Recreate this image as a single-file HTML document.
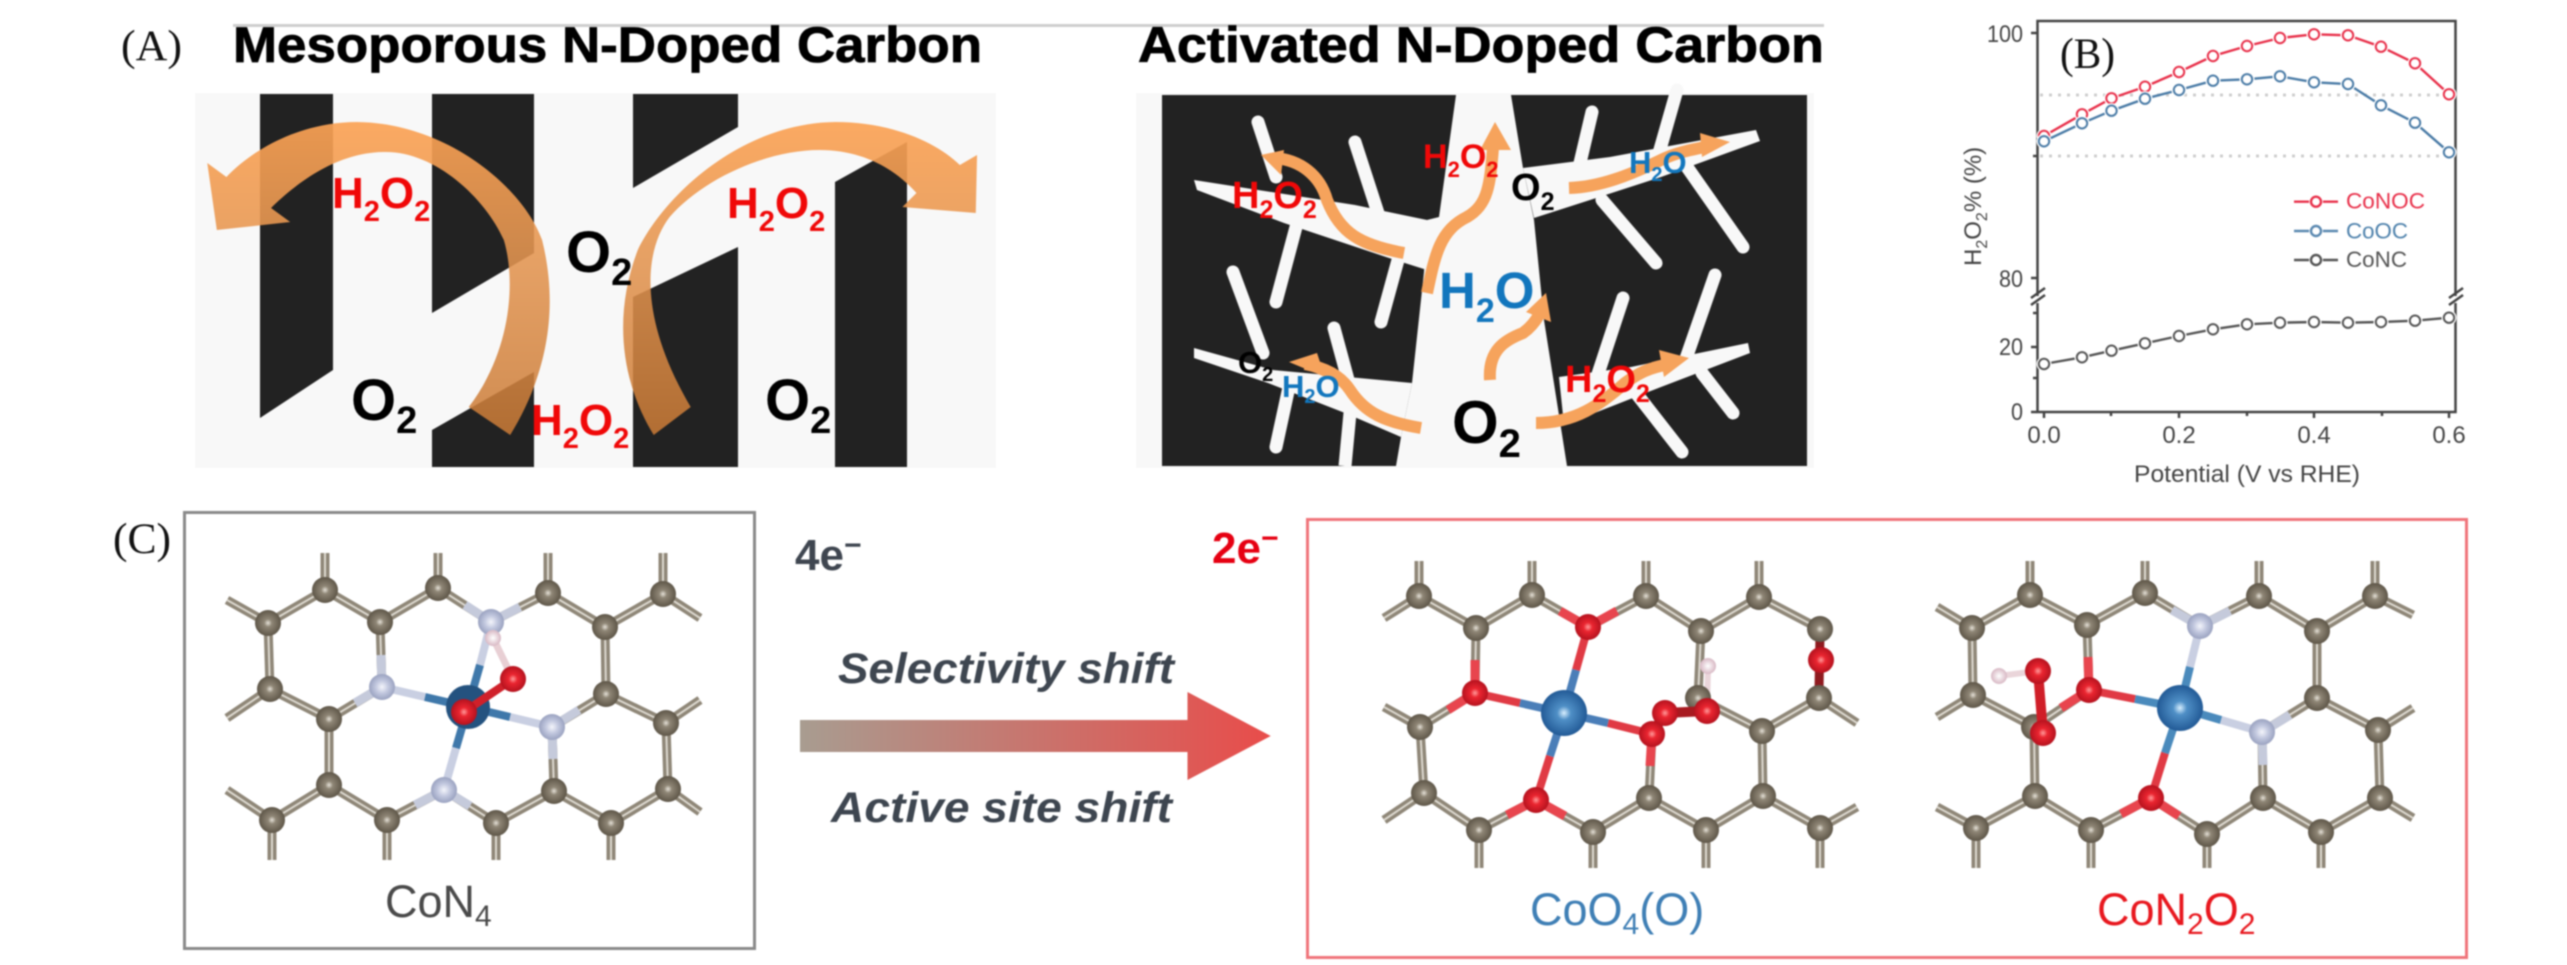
<!DOCTYPE html>
<html><head><meta charset="utf-8"><style>
html,body{margin:0;padding:0;background:#fff;width:2567px;height:965px;overflow:hidden}
svg{display:block;font-family:"Liberation Sans",sans-serif}
.blur{filter:blur(.7px)}
.ser{font-family:"Liberation Serif",serif;font-size:43px;fill:#111}
.b{font-weight:bold}
.wt{stroke:#f8f8f8;fill:none;stroke-linecap:round}
.or{stroke:#f6a35c;fill:none;stroke-width:12;stroke-linecap:butt;stroke-linejoin:round}
.ah{fill:#f6a35c}
.tk{font-size:24px;fill:#444}
</style></head><body>
<svg width="2567" height="965" viewBox="0 0 2567 965" xmlns="http://www.w3.org/2000/svg">
<defs>
<linearGradient id="ga" x1="0" y1="0" x2="0" y2="1"><stop offset="0" stop-color="#fba254" stop-opacity=".92"/><stop offset=".45" stop-color="#e29450" stop-opacity=".88"/><stop offset="1" stop-color="#c97a36" stop-opacity=".86"/></linearGradient>
<linearGradient id="gs" gradientUnits="userSpaceOnUse" x1="800" y1="0" x2="1270" y2="0"><stop offset="0" stop-color="#a89c90"/><stop offset="1" stop-color="#e84c4a"/></linearGradient>
<radialGradient id="gc"><stop offset="0" stop-color="#e6e2d8"/><stop offset=".3" stop-color="#8f8676"/><stop offset="1" stop-color="#5e5648"/></radialGradient>
<radialGradient id="gn"><stop offset="0" stop-color="#f4f5fb"/><stop offset=".5" stop-color="#c1c7de"/><stop offset="1" stop-color="#9aa2c0"/></radialGradient>
<radialGradient id="go"><stop offset="0" stop-color="#ff9a9a"/><stop offset=".35" stop-color="#ea2530"/><stop offset="1" stop-color="#b5121e"/></radialGradient>
<radialGradient id="gh"><stop offset="0" stop-color="#fff"/><stop offset="1" stop-color="#d8b8c4"/></radialGradient>
<radialGradient id="gk"><stop offset="0" stop-color="#d8efff"/><stop offset=".3" stop-color="#4f8fc6"/><stop offset="1" stop-color="#225a96"/></radialGradient>
<circle id="c" r="13" fill="url(#gc)"/>
<circle id="n" r="13" fill="url(#gn)"/>
<circle id="o" r="13" fill="url(#go)"/>
<circle id="h" r="8" fill="url(#gh)"/>
<circle id="k" r="23" fill="url(#gk)"/>
<marker id="mr" markerWidth="20" markerHeight="20" refX="10" refY="10" markerUnits="userSpaceOnUse"><circle cx="10" cy="10" r="7.5" fill="#fff"/><circle cx="10" cy="10" r="5.2" fill="#fff" stroke="#e8304a" stroke-width="2"/></marker>
<marker id="mb" markerWidth="20" markerHeight="20" refX="10" refY="10" markerUnits="userSpaceOnUse"><circle cx="10" cy="10" r="7.5" fill="#fff"/><circle cx="10" cy="10" r="5.2" fill="#fff" stroke="#4a7ba6" stroke-width="2"/></marker>
<marker id="mg" markerWidth="20" markerHeight="20" refX="10" refY="10" markerUnits="userSpaceOnUse"><circle cx="10" cy="10" r="7.5" fill="#fff"/><circle cx="10" cy="10" r="5.2" fill="#fff" stroke="#555" stroke-width="2"/></marker>
<g id="netA" fill="none">
<polyline points="227,600 268,623 325,590 380,622 438,588 491,622 548,593 605,627 663,594 700,618"/>
<polyline points="227,718 270,689 329,719 382,687 380,622"/>
<polyline points="268,623 270,689"/>
<polyline points="700,700 666,723 606,694 552,727 554,791"/>
<polyline points="605,627 606,694"/>
<polyline points="329,719 329,785"/>
<polyline points="666,723 668,789"/>
<polyline points="227,790 272,820 329,785 387,820 444,790 496,823 554,791 611,823 668,789 700,812"/>
<path d="M325,590V553M438,588V553M548,593V553M663,594V553M272,820V860M387,820V860M496,823V860M611,823V860"/>
</g>
<g id="netB" fill="none">
<polyline points="1384,618 1419,596 1476,628 1532,595 1588,627 1646,596 1701,631 1759,597 1820,629"/>
<polyline points="1476,628 1475,693 1420,727 1384,707"/>
<polyline points="1420,727 1424,793 1384,820"/>
<polyline points="1424,793 1479,830 1536,800 1593,832 1649,798 1706,830 1763,796 1820,828 1857,807"/>
<polyline points="1649,798 1652,734"/>
<polyline points="1701,631 1698,698 1762,731 1819,698 1857,723"/>
<polyline points="1762,731 1763,796"/>
<path d="M1419,596V561M1532,595V561M1646,596V561M1759,597V561M1479,830V868M1593,832V868M1706,830V868M1820,828V868"/>
</g>
<g id="netC" fill="none">
<polyline points="1937,607 1972,628 2030,595 2087,625 2145,593 2200,626 2259,596 2317,631 2375,596 2413,615"/>
<polyline points="1972,628 1973,695 1937,717"/>
<polyline points="1973,695 2034,727 2035,796"/>
<polyline points="2087,625 2089,690 2034,727"/>
<polyline points="1937,807 1976,828 2035,796 2091,830 2151,798 2207,834 2263,798 2321,832 2380,798 2413,818"/>
<polyline points="2263,798 2262,732 2317,698 2317,631"/>
<polyline points="2317,698 2378,730 2413,708"/>
<polyline points="2378,730 2380,798"/>
<path d="M2030,595V561M2145,593V561M2259,596V561M2375,596V561M1976,828V868M2091,830V868M2207,834V868M2321,832V868"/>
</g>
</defs>

<rect width="2567" height="965" fill="#fff"/>
<g class="blur">
<!-- top rule -->
<rect x="233" y="24" width="1591" height="3" fill="#cfcfcf"/>

<!-- Panel A left -->
<rect x="195" y="93" width="801" height="375" fill="#f8f8f8"/>
<g fill="#222">
<polygon points="260,94 333,94 333,370 260,418"/>
<polygon points="432,94 534,94 534,253 432,313"/>
<polygon points="432,430 534,372 534,467 432,467"/>
<polygon points="633,94 738,94 738,127 633,188"/>
<polygon points="633,297 738,247 738,467 633,467"/>
<polygon points="835,182 907,142 907,467 835,467"/>
</g>
<g transform="scale(.63776,1)" fill="url(#ga)">
<path d="M800,435 C850,383 880,317 850,240 C820,187 700,123 560,122 C470,122 395,150 355,177 L325,163 L340,230 L455,222 L425,208 C470,180 530,153 600,152 C680,150 760,197 790,240 C810,283 800,353 735,407 Z"/>
<path d="M1025,435 C975,383 960,317 1000,250 C1040,197 1160,123 1310,122 C1400,122 1470,143 1505,165 L1532,155 L1530,213 L1415,207 L1437,193 C1400,167 1350,150 1285,150 C1200,150 1100,180 1050,217 C1010,250 1000,317 1083,407 Z"/>
</g>

<!-- Panel A right -->
<rect x="1136" y="93" width="678" height="375" fill="#f8f8f8"/>
<rect x="1162" y="95" width="645" height="371" fill="#222"/>
<g fill="#f8f8f8">
<polygon points="1456,95 1511,95 1523,168 1534,220 1544,320 1567,466 1396,466 1401,437 1412,383 1424,272 1427,220 1439,217"/>
<polygon points="1523,168 1610,157 1756,130 1760,141 1661,177 1590,200 1534,218"/>
<polygon points="1194,180 1355,205 1427,220 1427,270 1386,257 1284,223 1197,190"/>
<polygon points="1194,348 1273,370 1412,383 1401,437 1345,413 1268,383 1194,358"/>
<polygon points="1559,377 1631,367 1748,343 1750,353 1661,387 1564,425"/>
</g>
<g class="wt" stroke-width="13">
<path d="M1592,112L1580,163M1602,200L1656,263M1677,90L1659,153M1687,167L1743,247"/>
<path d="M1258,122L1276,177M1355,142L1378,213M1296,227L1276,302M1398,260L1381,322"/>
<path d="M1233,272L1263,353M1334,328L1350,387M1289,387L1276,447"/>
<path d="M1350,413L1345,466" stroke-linecap="butt"/>
<path d="M1623,298L1597,377M1715,275L1682,370M1702,373L1733,413M1636,393L1682,452"/>
</g>
<g class="or">
<path d="M1404,253C1360,245 1340,233 1327,200C1320,175 1300,160 1275,158"/>
<path d="M1427,293C1435,255 1440,230 1467,217C1488,205 1490,185 1493,148"/>
<path d="M1569,188C1600,187 1630,175 1661,160C1675,153 1690,150 1705,147"/>
<path d="M1490,380C1488,350 1505,340 1523,333C1530,328 1535,322 1539,315"/>
<path d="M1421,428C1385,422 1365,413 1350,390C1340,375 1325,368 1305,364"/>
<path d="M1536,423C1575,423 1600,405 1625,383C1640,372 1650,368 1665,365"/>
</g>
<g class="ah">
<polygon points="1261,155 1284,150 1281,175"/>
<polygon points="1495,122 1480,150 1511,150"/>
<polygon points="1730,142 1700,133 1702,157"/>
<polygon points="1546,293 1526,312 1551,322"/>
<polygon points="1289,362 1317,353 1325,377"/>
<polygon points="1689,358 1659,350 1664,377"/>
</g>

<!-- Panel A text -->
<text x="121" y="60" class="ser" textLength="61" lengthAdjust="spacingAndGlyphs">(A)</text>
<text x="233" y="62" class="b" font-size="50" fill="#000" stroke="#000" stroke-width=".8" textLength="749" lengthAdjust="spacingAndGlyphs">Mesoporous N-Doped Carbon</text>
<text x="1138" y="62" class="b" font-size="50" fill="#000" stroke="#000" stroke-width=".8" textLength="686" lengthAdjust="spacingAndGlyphs">Activated N-Doped Carbon</text>

<g class="b" fill="#f00808">
<text x="332" y="208" font-size="44">H<tspan dy="13" font-size="29">2</tspan><tspan dy="-13">O</tspan><tspan dy="13" font-size="29">2</tspan></text>
<text x="727" y="218" font-size="44">H<tspan dy="13" font-size="29">2</tspan><tspan dy="-13">O</tspan><tspan dy="13" font-size="29">2</tspan></text>
<text x="531" y="435" font-size="44">H<tspan dy="13" font-size="29">2</tspan><tspan dy="-13">O</tspan><tspan dy="13" font-size="29">2</tspan></text>
<text x="1423" y="168" font-size="34">H<tspan dy="9" font-size="22">2</tspan><tspan dy="-9">O</tspan><tspan dy="9" font-size="22">2</tspan></text>
<text x="1232" y="208" font-size="38">H<tspan dy="10" font-size="25">2</tspan><tspan dy="-10">O</tspan><tspan dy="10" font-size="25">2</tspan></text>
<text x="1565" y="392" font-size="38">H<tspan dy="10" font-size="25">2</tspan><tspan dy="-10">O</tspan><tspan dy="10" font-size="25">2</tspan></text>
</g>
<g class="b" fill="#000">
<text x="566" y="272" font-size="58">O<tspan dy="13" font-size="38">2</tspan></text>
<text x="351" y="420" font-size="58">O<tspan dy="13" font-size="38">2</tspan></text>
<text x="765" y="420" font-size="58">O<tspan dy="13" font-size="38">2</tspan></text>
<text x="1511" y="200" font-size="38">O<tspan dy="10" font-size="25">2</tspan></text>
<text x="1238" y="373" font-size="31">O<tspan dy="8" font-size="20">2</tspan></text>
<text x="1452" y="443" font-size="60">O<tspan dy="14" font-size="40">2</tspan></text>
</g>
<g class="b" fill="#1276bd">
<text x="1629" y="173" font-size="31">H<tspan dy="8" font-size="20">2</tspan><tspan dy="-8">O</tspan></text>
<text x="1439" y="308" font-size="51">H<tspan dy="14" font-size="34">2</tspan><tspan dy="-14">O</tspan></text>
<text x="1282" y="397" font-size="31">H<tspan dy="6" font-size="20">2</tspan><tspan dy="-6">O</tspan></text>
</g>

<!-- Panel B chart -->
<g stroke="#cfcfcf" stroke-width="3" stroke-dasharray="3 6"><path d="M2040,95H2453M2040,156H2453"/></g>
<g fill="none" stroke="#444" stroke-width="2.5">
<path d="M2037.5,296V21H2455.5V296"/>
<path d="M2037.5,303V412H2455.5V303"/>
<path d="M2031,298L2045,288M2031,305L2045,295M2449,298L2463,288M2449,305L2463,295"/>
<path d="M2031,33H2037M2031,278H2037M2031,347H2037M2031,412H2037M2033,156H2037M2033,313H2037M2033,378H2037"/>
<path d="M2044,412V418M2179,412V418M2314,412V418M2449,412V418M2111,412V416M2247,412V416M2382,412V416"/>
</g>
<g fill="none" stroke-width="2.4">
<polyline stroke="#555" marker-start="url(#mg)" marker-mid="url(#mg)" marker-end="url(#mg)" points="2044,364 2082,357.3 2111.5,350.7 2145,343.3 2179,336 2213,329.3 2247,324.3 2280,322.7 2314,322 2348,322.7 2381,322 2415,320.7 2449,317.7"/>
<polyline stroke="#e8304a" marker-start="url(#mr)" marker-mid="url(#mr)" marker-end="url(#mr)" points="2044,136 2082,114.3 2111.5,98.3 2145,86.7 2179,72 2213,56 2247,46 2280,38 2314,34.3 2348,35.3 2381,46.7 2415,63.3 2449,94.3"/>
<polyline stroke="#4a7ba6" marker-start="url(#mb)" marker-mid="url(#mb)" marker-end="url(#mb)" points="2044,141.3 2082,123.3 2111.5,110.7 2145,98.7 2179,90 2213,80.7 2247,79.3 2280,76.3 2314,82.3 2348,84 2381,105.3 2415,122.7 2449,152.3"/>
</g>
<g class="tk">
<text x="1987" y="42" textLength="36" lengthAdjust="spacingAndGlyphs">100</text>
<text x="1999" y="287" textLength="24" lengthAdjust="spacingAndGlyphs">80</text>
<text x="1999" y="355" textLength="24" lengthAdjust="spacingAndGlyphs">20</text>
<text x="2011" y="420" textLength="12" lengthAdjust="spacingAndGlyphs">0</text>
<text x="2044" y="443" text-anchor="middle">0.0</text>
<text x="2179" y="443" text-anchor="middle">0.2</text>
<text x="2314" y="443" text-anchor="middle">0.4</text>
<text x="2449" y="443" text-anchor="middle">0.6</text>
<text x="2134" y="482" textLength="226" lengthAdjust="spacingAndGlyphs">Potential (V vs RHE)</text>
<text transform="translate(1981,266) rotate(-90)">H<tspan dy="6" font-size="16">2</tspan><tspan dy="-6">O</tspan><tspan dy="6" font-size="16">2</tspan><tspan dy="-6">% (%)</tspan></text>
</g>
<g fill="#fff" stroke-width="2.4">
<path d="M2294,201.7H2338" stroke="#e8304a"/><circle cx="2316" cy="201.7" r="7" stroke="none"/><circle cx="2316" cy="201.7" r="5" stroke="#e8304a"/>
<path d="M2294,231H2338" stroke="#5a88b0"/><circle cx="2316" cy="231" r="7" stroke="none"/><circle cx="2316" cy="231" r="5" stroke="#5a88b0"/>
<path d="M2294,260H2338" stroke="#555"/><circle cx="2316" cy="260" r="7" stroke="none"/><circle cx="2316" cy="260" r="5" stroke="#555"/>
</g>
<text x="2346" y="208.5" font-size="22" fill="#e8304a" textLength="79" lengthAdjust="spacingAndGlyphs">CoNOC</text>
<text x="2346" y="238.5" font-size="22" fill="#4f82ac" textLength="62" lengthAdjust="spacingAndGlyphs">CoOC</text>
<text x="2346" y="267" font-size="22" fill="#555" textLength="61" lengthAdjust="spacingAndGlyphs">CoNC</text>
<text x="2060" y="68" class="ser" textLength="55" lengthAdjust="spacingAndGlyphs">(B)</text>

<!-- Panel C -->
<text x="113" y="553" class="ser" textLength="58" lengthAdjust="spacingAndGlyphs">(C)</text>
<rect x="184.5" y="512.5" width="570" height="436" fill="#fff" stroke="#8a8a8a" stroke-width="3"/>
<rect x="1307.5" y="519.5" width="1159" height="438" fill="#fff" stroke="#f0757b" stroke-width="3"/>

<!-- CoN4 -->
<use href="#netA" stroke="#8f8778" stroke-width="9"/>
<use href="#netA" stroke="#dcd8cf" stroke-width="2"/>
<g fill="none" stroke="#c5cadb" stroke-width="9">
<path d="M465,605L491,622L520,607M381,655L382,687L355,703M553,759L552,727L579,710M415,805L444,790L470,806"/>
</g>
<g fill="none" stroke-width="8">
<path stroke="#c9cfe2" d="M491,622L480,665M382,687L425,697M552,727L510,717M444,790L456,748"/>
<path stroke="#3f78aa" d="M480,665L468,707M425,697L468,707M510,717L468,707M456,748L468,707"/>
</g>
<path d="M493,638L513,679" stroke="#e8cfd4" stroke-width="7"/>
<g>
<use href="#c" x="325" y="590"/><use href="#c" x="438" y="588"/><use href="#c" x="548" y="593"/><use href="#c" x="663" y="594"/>
<use href="#c" x="268" y="623"/><use href="#c" x="380" y="622"/><use href="#c" x="605" y="627"/>
<use href="#c" x="270" y="689"/><use href="#c" x="606" y="694"/>
<use href="#c" x="329" y="719"/><use href="#c" x="666" y="723"/>
<use href="#c" x="329" y="785"/><use href="#c" x="554" y="791"/><use href="#c" x="668" y="789"/>
<use href="#c" x="272" y="820"/><use href="#c" x="387" y="820"/><use href="#c" x="496" y="823"/><use href="#c" x="611" y="823"/>
<use href="#n" x="491" y="622"/><use href="#n" x="382" y="687"/><use href="#n" x="552" y="727"/><use href="#n" x="444" y="790"/>
<use href="#h" x="493" y="638"/>
<circle cx="468" cy="707" r="22" fill="#24527f"/>
<path d="M464,712L513,679" stroke="#d0202a" stroke-width="8"/>
<use href="#o" x="464" y="712"/><use href="#o" x="513" y="679"/>
</g>
<text x="385" y="917" font-size="45" fill="#4a4a4a">CoN<tspan dy="9" font-size="30">4</tspan></text>

<!-- CoO4(O) -->
<use href="#netB" stroke="#8f8778" stroke-width="9"/>
<use href="#netB" stroke="#dcd8cf" stroke-width="2"/>
<g fill="none" stroke="#e8454e" stroke-width="9">
<path d="M1560,611L1588,627L1617,611M1475,660L1475,693L1448,710M1507,815L1536,800L1565,816M1650,766L1652,734"/>
</g>
<g fill="none" stroke-width="8">
<path stroke="#e03a44" d="M1588,627L1576,670M1475,693L1520,703M1652,734L1608,723M1536,800L1550,756"/>
<path stroke="#4a7eb8" d="M1576,670L1564,713M1520,703L1564,713M1608,723L1564,713M1550,756L1564,713"/>
</g>
<path d="M1820,635L1819,690" stroke="#8f1a1f" stroke-width="9"/>
<path d="M1708,666L1707,711" stroke="#ead5da" stroke-width="6"/>
<g>
<use href="#c" x="1419" y="596"/><use href="#c" x="1532" y="595"/><use href="#c" x="1646" y="596"/><use href="#c" x="1759" y="597"/>
<use href="#c" x="1476" y="628"/><use href="#c" x="1701" y="631"/><use href="#c" x="1820" y="629"/>
<use href="#c" x="1819" y="698"/><use href="#c" x="1698" y="698"/>
<use href="#c" x="1420" y="727"/><use href="#c" x="1762" y="731"/>
<use href="#c" x="1424" y="793"/><use href="#c" x="1649" y="798"/><use href="#c" x="1763" y="796"/>
<use href="#c" x="1479" y="830"/><use href="#c" x="1593" y="832"/><use href="#c" x="1706" y="830"/><use href="#c" x="1820" y="828"/>
<use href="#o" x="1588" y="627"/><use href="#o" x="1475" y="693"/><use href="#o" x="1536" y="800"/><use href="#o" x="1821" y="660"/>
<use href="#h" x="1708" y="666"/>
<path d="M1652,734L1665,713L1707,711" stroke="#a81a20" stroke-width="10" fill="none"/>
<use href="#o" x="1665" y="713"/><use href="#o" x="1652" y="734"/><use href="#o" x="1707" y="711"/>
<use href="#k" x="1564" y="713"/>
</g>
<text x="1530" y="925" font-size="45" fill="#3f7fb5">CoO<tspan dy="9" font-size="30">4</tspan><tspan dy="-9">(O)</tspan></text>

<!-- CoN2O2 -->
<use href="#netC" stroke="#8f8778" stroke-width="9"/>
<use href="#netC" stroke="#dcd8cf" stroke-width="2"/>
<g fill="none" stroke="#c5cadb" stroke-width="9"><path d="M2172,610L2200,626L2230,611M2290,715L2262,732L2263,765"/></g>
<g fill="none" stroke="#e8454e" stroke-width="9"><path d="M2088,657L2089,690L2061,708M2121,814L2151,798L2179,816"/></g>
<g fill="none" stroke-width="8">
<path stroke="#c9cfe2" d="M2200,626L2190,667M2262,732L2221,720"/>
<path stroke="#e03a44" d="M2089,690L2135,699M2151,798L2165,753"/>
<path stroke="#4a8abc" d="M2190,667L2180,708M2135,699L2180,708M2221,720L2180,708M2165,753L2180,708"/>
</g>
<path d="M1999,676L2038,671" stroke="#ead5da" stroke-width="6"/>
<g>
<use href="#c" x="2030" y="595"/><use href="#c" x="2145" y="593"/><use href="#c" x="2259" y="596"/><use href="#c" x="2375" y="596"/>
<use href="#c" x="1972" y="628"/><use href="#c" x="2087" y="625"/><use href="#c" x="2317" y="631"/>
<use href="#c" x="1973" y="695"/><use href="#c" x="2317" y="698"/>
<use href="#c" x="2034" y="727"/><use href="#c" x="2378" y="730"/>
<use href="#c" x="2035" y="796"/><use href="#c" x="2263" y="798"/><use href="#c" x="2380" y="798"/>
<use href="#c" x="1976" y="828"/><use href="#c" x="2091" y="830"/><use href="#c" x="2207" y="834"/><use href="#c" x="2321" y="832"/>
<use href="#n" x="2200" y="626"/><use href="#n" x="2262" y="732"/>
<use href="#o" x="2089" y="690"/><use href="#o" x="2151" y="798"/>
<use href="#h" x="1999" y="676"/>
<path d="M2038,671L2043,733" stroke="#d01e28" stroke-width="10"/>
<use href="#o" x="2038" y="671"/><use href="#o" x="2043" y="733"/>
<use href="#k" x="2180" y="708"/>
</g>
<text x="2097" y="925" font-size="45" fill="#e8181f">CoN<tspan dy="9" font-size="30">2</tspan><tspan dy="-9">O</tspan><tspan dy="9" font-size="30">2</tspan></text>

<!-- Center arrow -->
<polygon points="800,720 1187.5,720 1187.5,692 1270.7,736 1187.5,780 1187.5,752 800,752" fill="url(#gs)"/>
<text x="795" y="570" class="b" font-size="44" fill="#3f4650">4e<tspan dy="-15" font-size="30">−</tspan></text>
<text x="1212" y="563" class="b" font-size="44" fill="#e60012">2e<tspan dy="-15" font-size="30">−</tspan></text>
<text x="838" y="683" class="b" font-style="italic" font-size="43" fill="#3e4650" textLength="336" lengthAdjust="spacingAndGlyphs">Selectivity shift</text>
<text x="831" y="822" class="b" font-style="italic" font-size="43" fill="#3e4650" textLength="341" lengthAdjust="spacingAndGlyphs">Active site shift</text>
</g>
</svg>
</body></html>
